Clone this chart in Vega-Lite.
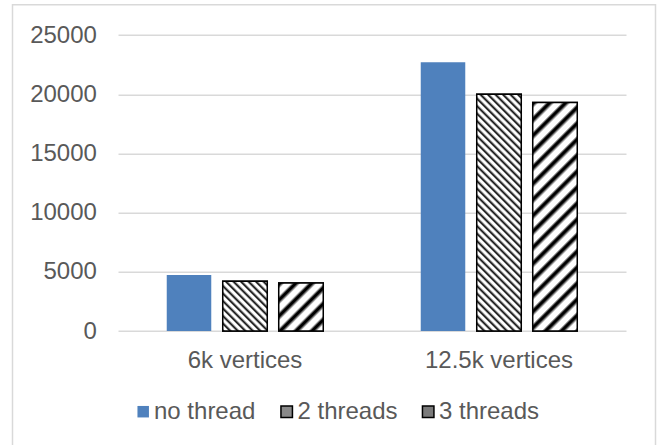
{
  "$schema": "https://vega.github.io/schema/vega-lite/v6.json",
  "autosize": "none",
  "width": 643,
  "height": 445,
  "padding": {"left": 12.5, "top": 4.7, "right": 4.5, "bottom": -4.7},
  "background": "white",
  "data": {
    "values": [
      {"graph": "6k vertices", "mode": "no thread", "time": 4720},
      {"graph": "6k vertices", "mode": "2 threads", "time": 4200},
      {"graph": "6k vertices", "mode": "3 threads", "time": 4050},
      {"graph": "12.5k vertices", "mode": "no thread", "time": 22700},
      {"graph": "12.5k vertices", "mode": "2 threads", "time": 20000},
      {"graph": "12.5k vertices", "mode": "3 threads", "time": 19300}
    ]
  },
  "encoding": {
    "x": {
      "field": "graph", "type": "nominal",
      "scale": {"domain": ["6k vertices", "12.5k vertices"], "range": [105.5, 613.5], "paddingInner": 0, "paddingOuter": 0},
      "axis": {"title": null, "labelAngle": 0, "domain": false, "ticks": false, "tickSize": 0, "grid": false, "labelPadding": 0, "labelBaseline": "alphabetic", "offset": -82}
    },
    "xOffset": {
      "field": "mode", "type": "nominal",
      "scale": {"domain": ["no thread", "2 threads", "3 threads"], "paddingInner": 0.205, "paddingOuter": 0.8705}
    },
    "y": {
      "field": "time", "type": "quantitative",
      "scale": {"domain": [0, 25000], "range": [326.3, 30.3], "nice": false},
      "axis": {"title": null, "values": [0, 5000, 10000, 15000, 20000, 25000], "format": "d", "domain": false, "ticks": false, "tickSize": 0, "labelPadding": 0, "offset": -83.9}
    }
  },
  "layer": [
    {
      "mark": {"type": "bar", "strokeWidth": 1.5},
      "encoding": {
        "color": {
          "field": "mode", "type": "nominal",
          "scale": {"domain": ["no thread", "2 threads", "3 threads"], "range": ["#4f81bd", "#8a8a8a", "#7a7a7a"]},
          "legend": {
            "title": null, "orient": "none", "direction": "horizontal", "legendX": 118.7, "legendY": 395,
            "padding": 0, "symbolType": "square", "symbolSize": 132, "symbolStrokeWidth": 1.5, "labelOffset": -1.2, "columnPadding": 18.5
          }
        },
        "stroke": {
          "field": "mode", "type": "nominal",
          "scale": {"domain": ["no thread", "2 threads", "3 threads"], "range": ["transparent", "#000000", "#000000"]},
          "legend": {
            "title": null, "orient": "none", "direction": "horizontal", "legendX": 118.7, "legendY": 395,
            "padding": 0, "symbolType": "square", "symbolSize": 132, "symbolStrokeWidth": 1.5, "labelOffset": -1.2, "columnPadding": 18.5
          }
        }
      }
    },
    {
      "transform": [{"filter": "datum.graph === '6k vertices' && datum.mode === '2 threads'"}],
      "mark": {"type": "bar", "stroke": "#000000", "strokeWidth": 1.5, "fill": {"gradient": "linear", "x1": 0, "y1": 1, "x2": 1.1991, "y2": -0.34, "stops": [
        {"offset": 0, "color": "#000"}, {"offset": 0.025, "color": "#fff"}, {"offset": 0.04375, "color": "#fff"},
        {"offset": 0.0625, "color": "#000"}, {"offset": 0.0875, "color": "#fff"}, {"offset": 0.10625, "color": "#fff"},
        {"offset": 0.125, "color": "#000"}, {"offset": 0.15, "color": "#fff"}, {"offset": 0.16875, "color": "#fff"},
        {"offset": 0.1875, "color": "#000"}, {"offset": 0.2125, "color": "#fff"}, {"offset": 0.23125, "color": "#fff"},
        {"offset": 0.25, "color": "#000"}, {"offset": 0.275, "color": "#fff"}, {"offset": 0.29375, "color": "#fff"},
        {"offset": 0.3125, "color": "#000"}, {"offset": 0.3375, "color": "#fff"}, {"offset": 0.35625, "color": "#fff"},
        {"offset": 0.375, "color": "#000"}, {"offset": 0.4, "color": "#fff"}, {"offset": 0.41875, "color": "#fff"},
        {"offset": 0.4375, "color": "#000"}, {"offset": 0.4625, "color": "#fff"}, {"offset": 0.48125, "color": "#fff"},
        {"offset": 0.5, "color": "#000"}, {"offset": 0.525, "color": "#fff"}, {"offset": 0.54375, "color": "#fff"},
        {"offset": 0.5625, "color": "#000"}, {"offset": 0.5875, "color": "#fff"}, {"offset": 0.60625, "color": "#fff"},
        {"offset": 0.625, "color": "#000"}, {"offset": 0.65, "color": "#fff"}, {"offset": 0.66875, "color": "#fff"},
        {"offset": 0.6875, "color": "#000"}, {"offset": 0.7125, "color": "#fff"}, {"offset": 0.73125, "color": "#fff"},
        {"offset": 0.75, "color": "#000"}, {"offset": 0.775, "color": "#fff"}, {"offset": 0.79375, "color": "#fff"},
        {"offset": 0.8125, "color": "#000"}]}}
    },
    {
      "transform": [{"filter": "datum.graph === '12.5k vertices' && datum.mode === '2 threads'"}],
      "mark": {"type": "bar", "stroke": "#000000", "strokeWidth": 1.5, "fill": {"gradient": "linear", "x1": 0, "y1": 1, "x2": 0.23, "y2": -0.2237, "stops": [
        {"offset": 0, "color": "#000"}, {"offset": 0.01, "color": "#fff"}, {"offset": 0.0175, "color": "#fff"},
        {"offset": 0.025, "color": "#000"}, {"offset": 0.035, "color": "#fff"}, {"offset": 0.0425, "color": "#fff"},
        {"offset": 0.05, "color": "#000"}, {"offset": 0.06, "color": "#fff"}, {"offset": 0.0675, "color": "#fff"},
        {"offset": 0.075, "color": "#000"}, {"offset": 0.085, "color": "#fff"}, {"offset": 0.0925, "color": "#fff"},
        {"offset": 0.1, "color": "#000"}, {"offset": 0.11, "color": "#fff"}, {"offset": 0.1175, "color": "#fff"},
        {"offset": 0.125, "color": "#000"}, {"offset": 0.135, "color": "#fff"}, {"offset": 0.1425, "color": "#fff"},
        {"offset": 0.15, "color": "#000"}, {"offset": 0.16, "color": "#fff"}, {"offset": 0.1675, "color": "#fff"},
        {"offset": 0.175, "color": "#000"}, {"offset": 0.185, "color": "#fff"}, {"offset": 0.1925, "color": "#fff"},
        {"offset": 0.2, "color": "#000"}, {"offset": 0.21, "color": "#fff"}, {"offset": 0.2175, "color": "#fff"},
        {"offset": 0.225, "color": "#000"}, {"offset": 0.235, "color": "#fff"}, {"offset": 0.2425, "color": "#fff"},
        {"offset": 0.25, "color": "#000"}, {"offset": 0.26, "color": "#fff"}, {"offset": 0.2675, "color": "#fff"},
        {"offset": 0.275, "color": "#000"}, {"offset": 0.285, "color": "#fff"}, {"offset": 0.2925, "color": "#fff"},
        {"offset": 0.3, "color": "#000"}, {"offset": 0.31, "color": "#fff"}, {"offset": 0.3175, "color": "#fff"},
        {"offset": 0.325, "color": "#000"}, {"offset": 0.335, "color": "#fff"}, {"offset": 0.3425, "color": "#fff"},
        {"offset": 0.35, "color": "#000"}, {"offset": 0.36, "color": "#fff"}, {"offset": 0.3675, "color": "#fff"},
        {"offset": 0.375, "color": "#000"}, {"offset": 0.385, "color": "#fff"}, {"offset": 0.3925, "color": "#fff"},
        {"offset": 0.4, "color": "#000"}, {"offset": 0.41, "color": "#fff"}, {"offset": 0.4175, "color": "#fff"},
        {"offset": 0.425, "color": "#000"}, {"offset": 0.435, "color": "#fff"}, {"offset": 0.4425, "color": "#fff"},
        {"offset": 0.45, "color": "#000"}, {"offset": 0.46, "color": "#fff"}, {"offset": 0.4675, "color": "#fff"},
        {"offset": 0.475, "color": "#000"}, {"offset": 0.485, "color": "#fff"}, {"offset": 0.4925, "color": "#fff"},
        {"offset": 0.5, "color": "#000"}, {"offset": 0.51, "color": "#fff"}, {"offset": 0.5175, "color": "#fff"},
        {"offset": 0.525, "color": "#000"}, {"offset": 0.535, "color": "#fff"}, {"offset": 0.5425, "color": "#fff"},
        {"offset": 0.55, "color": "#000"}, {"offset": 0.56, "color": "#fff"}, {"offset": 0.5675, "color": "#fff"},
        {"offset": 0.575, "color": "#000"}, {"offset": 0.585, "color": "#fff"}, {"offset": 0.5925, "color": "#fff"},
        {"offset": 0.6, "color": "#000"}, {"offset": 0.61, "color": "#fff"}, {"offset": 0.6175, "color": "#fff"},
        {"offset": 0.625, "color": "#000"}, {"offset": 0.635, "color": "#fff"}, {"offset": 0.6425, "color": "#fff"},
        {"offset": 0.65, "color": "#000"}, {"offset": 0.66, "color": "#fff"}, {"offset": 0.6675, "color": "#fff"},
        {"offset": 0.675, "color": "#000"}, {"offset": 0.685, "color": "#fff"}, {"offset": 0.6925, "color": "#fff"},
        {"offset": 0.7, "color": "#000"}, {"offset": 0.71, "color": "#fff"}, {"offset": 0.7175, "color": "#fff"},
        {"offset": 0.725, "color": "#000"}, {"offset": 0.735, "color": "#fff"}, {"offset": 0.7425, "color": "#fff"},
        {"offset": 0.75, "color": "#000"}, {"offset": 0.76, "color": "#fff"}, {"offset": 0.7675, "color": "#fff"},
        {"offset": 0.775, "color": "#000"}, {"offset": 0.785, "color": "#fff"}, {"offset": 0.7925, "color": "#fff"},
        {"offset": 0.8, "color": "#000"}, {"offset": 0.81, "color": "#fff"}, {"offset": 0.8175, "color": "#fff"},
        {"offset": 0.825, "color": "#000"}, {"offset": 0.835, "color": "#fff"}, {"offset": 0.8425, "color": "#fff"},
        {"offset": 0.85, "color": "#000"}, {"offset": 0.86, "color": "#fff"}, {"offset": 0.8675, "color": "#fff"},
        {"offset": 0.875, "color": "#000"}, {"offset": 0.885, "color": "#fff"}, {"offset": 0.8925, "color": "#fff"},
        {"offset": 0.9, "color": "#000"}, {"offset": 0.91, "color": "#fff"}, {"offset": 0.9175, "color": "#fff"},
        {"offset": 0.925, "color": "#000"}, {"offset": 0.935, "color": "#fff"}, {"offset": 0.9425, "color": "#fff"},
        {"offset": 0.95, "color": "#000"}]}}
    },
    {
      "transform": [{"filter": "datum.graph === '6k vertices' && datum.mode === '3 threads'"}],
      "mark": {"type": "bar", "stroke": "#000000", "strokeWidth": 1.5, "fill": {"gradient": "linear", "x1": 0, "y1": 0, "x2": 1.331, "y2": 1.4342, "stops": [
        {"offset": 0, "color": "#000"}, {"offset": 0.01875, "color": "#000"}, {"offset": 0.05, "color": "#fff"}, {"offset": 0.1, "color": "#fff"},
        {"offset": 0.125, "color": "#000"}, {"offset": 0.14375, "color": "#000"}, {"offset": 0.175, "color": "#fff"}, {"offset": 0.225, "color": "#fff"},
        {"offset": 0.25, "color": "#000"}, {"offset": 0.26875, "color": "#000"}, {"offset": 0.3, "color": "#fff"}, {"offset": 0.35, "color": "#fff"},
        {"offset": 0.375, "color": "#000"}, {"offset": 0.39375, "color": "#000"}, {"offset": 0.425, "color": "#fff"}, {"offset": 0.475, "color": "#fff"},
        {"offset": 0.5, "color": "#000"}, {"offset": 0.51875, "color": "#000"}, {"offset": 0.55, "color": "#fff"}, {"offset": 0.6, "color": "#fff"},
        {"offset": 0.625, "color": "#000"}, {"offset": 0.64375, "color": "#000"}, {"offset": 0.675, "color": "#fff"}, {"offset": 0.725, "color": "#fff"},
        {"offset": 0.75, "color": "#000"}, {"offset": 0.76875, "color": "#000"}, {"offset": 0.8, "color": "#fff"}, {"offset": 0.85, "color": "#fff"},
        {"offset": 0.875, "color": "#000"}]}}
    },
    {
      "transform": [{"filter": "datum.graph === '12.5k vertices' && datum.mode === '3 threads'"}],
      "mark": {"type": "bar", "stroke": "#000000", "strokeWidth": 1.5, "fill": {"gradient": "linear", "x1": 0, "y1": 0, "x2": 0.2628, "y2": 1.3493, "stops": [
        {"offset": 0, "color": "#000"}, {"offset": 0.0075, "color": "#000"}, {"offset": 0.02, "color": "#fff"}, {"offset": 0.04, "color": "#fff"},
        {"offset": 0.05, "color": "#000"}, {"offset": 0.0575, "color": "#000"}, {"offset": 0.07, "color": "#fff"}, {"offset": 0.09, "color": "#fff"},
        {"offset": 0.1, "color": "#000"}, {"offset": 0.1075, "color": "#000"}, {"offset": 0.12, "color": "#fff"}, {"offset": 0.14, "color": "#fff"},
        {"offset": 0.15, "color": "#000"}, {"offset": 0.1575, "color": "#000"}, {"offset": 0.17, "color": "#fff"}, {"offset": 0.19, "color": "#fff"},
        {"offset": 0.2, "color": "#000"}, {"offset": 0.2075, "color": "#000"}, {"offset": 0.22, "color": "#fff"}, {"offset": 0.24, "color": "#fff"},
        {"offset": 0.25, "color": "#000"}, {"offset": 0.2575, "color": "#000"}, {"offset": 0.27, "color": "#fff"}, {"offset": 0.29, "color": "#fff"},
        {"offset": 0.3, "color": "#000"}, {"offset": 0.3075, "color": "#000"}, {"offset": 0.32, "color": "#fff"}, {"offset": 0.34, "color": "#fff"},
        {"offset": 0.35, "color": "#000"}, {"offset": 0.3575, "color": "#000"}, {"offset": 0.37, "color": "#fff"}, {"offset": 0.39, "color": "#fff"},
        {"offset": 0.4, "color": "#000"}, {"offset": 0.4075, "color": "#000"}, {"offset": 0.42, "color": "#fff"}, {"offset": 0.44, "color": "#fff"},
        {"offset": 0.45, "color": "#000"}, {"offset": 0.4575, "color": "#000"}, {"offset": 0.47, "color": "#fff"}, {"offset": 0.49, "color": "#fff"},
        {"offset": 0.5, "color": "#000"}, {"offset": 0.5075, "color": "#000"}, {"offset": 0.52, "color": "#fff"}, {"offset": 0.54, "color": "#fff"},
        {"offset": 0.55, "color": "#000"}, {"offset": 0.5575, "color": "#000"}, {"offset": 0.57, "color": "#fff"}, {"offset": 0.59, "color": "#fff"},
        {"offset": 0.6, "color": "#000"}, {"offset": 0.6075, "color": "#000"}, {"offset": 0.62, "color": "#fff"}, {"offset": 0.64, "color": "#fff"},
        {"offset": 0.65, "color": "#000"}, {"offset": 0.6575, "color": "#000"}, {"offset": 0.67, "color": "#fff"}, {"offset": 0.69, "color": "#fff"},
        {"offset": 0.7, "color": "#000"}, {"offset": 0.7075, "color": "#000"}, {"offset": 0.72, "color": "#fff"}, {"offset": 0.74, "color": "#fff"},
        {"offset": 0.75, "color": "#000"}, {"offset": 0.7575, "color": "#000"}, {"offset": 0.77, "color": "#fff"}, {"offset": 0.79, "color": "#fff"},
        {"offset": 0.8, "color": "#000"}, {"offset": 0.8075, "color": "#000"}, {"offset": 0.82, "color": "#fff"}, {"offset": 0.84, "color": "#fff"},
        {"offset": 0.85, "color": "#000"}, {"offset": 0.8575, "color": "#000"}, {"offset": 0.87, "color": "#fff"}, {"offset": 0.89, "color": "#fff"},
        {"offset": 0.9, "color": "#000"}]}}
    }
  ],
  "config": {
    "font": "Liberation Sans",
    "view": {"stroke": "#d9d9d9", "strokeWidth": 1.5},
    "axis": {"labelFont": "Liberation Sans", "labelFontSize": 24, "labelColor": "#595959", "gridColor": "#d9d9d9", "gridWidth": 1.5},
    "legend": {"labelFont": "Liberation Sans", "labelFontSize": 24, "labelColor": "#595959"}
  }
}
